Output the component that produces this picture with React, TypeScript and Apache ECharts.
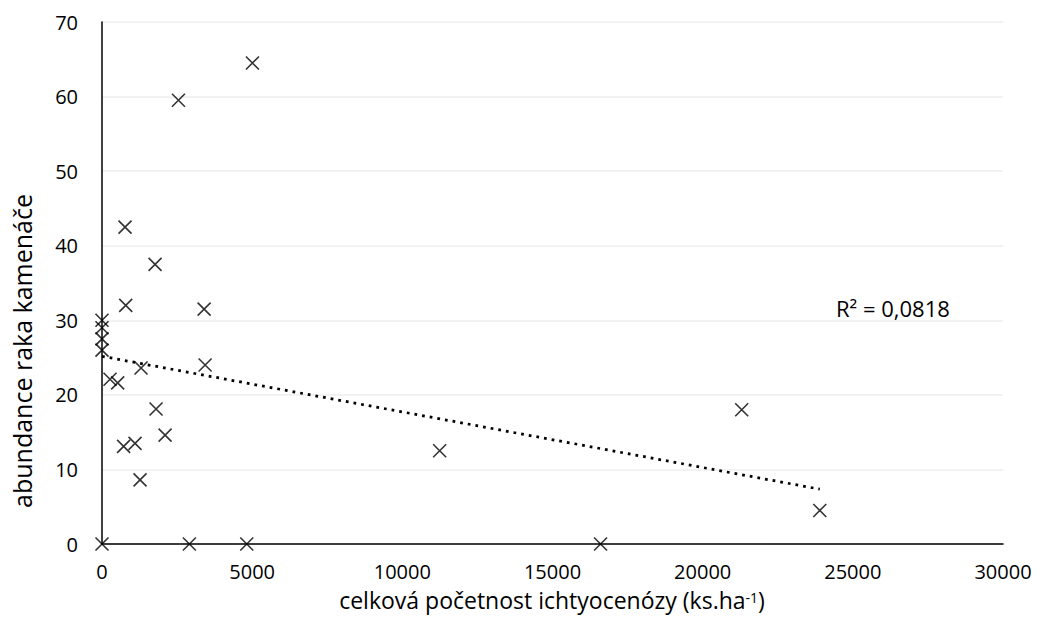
import React, { useEffect, useRef } from "react";
import * as echarts from "echarts";

const fishTotal: number[] = [
  0, 2910, 4820, 16600, 0, 0, 0, 0, 267, 522, 1300, 3433, 790, 3400, 767, 1767,
  2545, 5010, 1800, 2100, 720, 1100, 1267, 11243, 21300, 23900,
];
const crayfish: number[] = [
  0, 0, 0, 0, 30, 29, 27.5, 26, 22.1, 21.6, 23.6, 24, 32, 31.5, 42.5, 37.5,
  59.5, 64.5, 18.1, 14.6, 13.1, 13.5, 8.6, 12.5, 18, 4.5,
];
const xTicks = { min: 0, max: 30000, interval: 5000 };
const yTicks = { min: 0, max: 70, interval: 10 };
const r2Label = "R² = 0,0818";
const xTitle = "celková početnost ichtyocenózy (ks.ha";
const xTitleSup = "-1";
const xTitleEnd = ")";
const yTitle = "abundance raka kamenáče";

function regression(xs: number[], ys: number[]) {
  const n = xs.length;
  const mx = xs.reduce((a, b) => a + b, 0) / n;
  const my = ys.reduce((a, b) => a + b, 0) / n;
  let sxy = 0;
  let sxx = 0;
  for (let i = 0; i < n; i++) {
    sxy += (xs[i] - mx) * (ys[i] - my);
    sxx += (xs[i] - mx) * (xs[i] - mx);
  }
  const slope = sxy / sxx;
  return { slope, intercept: my - slope * mx };
}

const FONT = "'Open Sans', 'Noto Sans', sans-serif";

export default function App() {
  const ref = useRef<HTMLDivElement>(null);
  useEffect(() => {
    if (!ref.current) return;
    const chart = echarts.init(ref.current, undefined, { renderer: "svg" });
    const points = fishTotal.map((x, i) => [x, crayfish[i]]);
    const { slope, intercept } = regression(fishTotal, crayfish);
    const xMinD = Math.min(...fishTotal);
    const xMaxD = Math.max(...fishTotal);
    const trend = [
      [xMinD, intercept + slope * xMinD],
      [xMaxD, intercept + slope * xMaxD],
    ];
    chart.setOption({
      animation: false,
      backgroundColor: "#ffffff",
      textStyle: { fontFamily: FONT },
      grid: { left: 102, right: 40, top: 22, bottom: 79, containLabel: false },
      xAxis: {
        type: "value",
        min: xTicks.min,
        max: xTicks.max,
        interval: xTicks.interval,
        axisLine: { show: true, lineStyle: { color: "#000", width: 1.5 } },
        axisTick: { show: false },
        splitLine: { show: false },
        axisLabel: {
          color: "#000",
          fontSize: 20,
          lineHeight: 20,
          margin: 17,
          fontFamily: FONT,
          formatter: (v: number) => String(v),
        },
      },
      yAxis: {
        type: "value",
        min: yTicks.min,
        max: yTicks.max,
        interval: yTicks.interval,
        axisLine: { show: true, lineStyle: { color: "#000", width: 1.5 } },
        axisTick: { show: false },
        splitLine: { show: true, lineStyle: { color: "#eeeeee", width: 1.5 } },
        axisLabel: {
          color: "#000",
          fontSize: 20,
          margin: 24,
          fontFamily: FONT,
          formatter: (v: number) => String(v),
        },
      },
      series: [
        {
          type: "line",
          data: trend,
          symbol: "none",
          lineStyle: { color: "#000", width: 2.75, type: [2.75, 5] },
          z: 2,
        },
        {
          type: "scatter",
          data: points,
          symbol: "path://M0,0L10,10M10,0L0,10",
          symbolSize: 13,
          itemStyle: { color: "none", borderColor: "#000", borderWidth: 1.6 },
          z: 3,
        },
      ],
      graphic: [
        {
          type: "text",
          x: 836,
          y: 308,
          style: {
            text: r2Label,
            fontSize: 22,
            fill: "#000",
            fontFamily: FONT,
            verticalAlign: "middle",
          },
        },
        {
          type: "text",
          x: 22,
          y: 351,
          rotation: Math.PI / 2,
          style: {
            text: yTitle,
            fontSize: 25,
            fill: "#000",
            fontFamily: FONT,
            align: "center",
            verticalAlign: "middle",
          },
        },
        {
          type: "text",
          x: 552,
          y: 600,
          style: {
            text: `{a|${xTitle}}{s|${xTitleSup}}{a|${xTitleEnd}}`,
            align: "center",
            verticalAlign: "middle",
            fontFamily: FONT,
            rich: {
              a: { fontSize: 23, color: "#000", fontFamily: FONT, lineHeight: 20 },
              s: {
                fontSize: 14,
                color: "#000",
                fontFamily: FONT,
                lineHeight: 20,
                verticalAlign: "top",
              },
            },
          },
        },
      ],
    });
    return () => chart.dispose();
  }, []);
  return <div ref={ref} style={{ width: 1043, height: 623, margin: -8 }} />;
}
